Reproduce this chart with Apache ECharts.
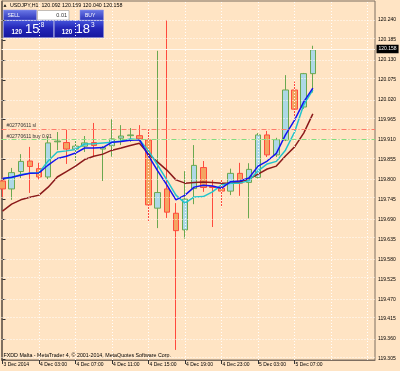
<!DOCTYPE html>
<html><head><meta charset="utf-8">
<script src="https://cdn.jsdelivr.net/npm/echarts@6/dist/echarts.min.js"></script>
<style>html,body{margin:0;padding:0;background:#FFE4C4;} #c{width:400px;height:371px;}</style>
</head><body><div id="c"></div>
<script>
// ---- data (USDJPY, H1) ----
const times = ['3 Dec 23:00','4 Dec 00:00','4 Dec 01:00','4 Dec 02:00','4 Dec 03:00','4 Dec 04:00','4 Dec 05:00','4 Dec 06:00',
  '4 Dec 07:00','4 Dec 08:00','4 Dec 09:00','4 Dec 10:00','4 Dec 11:00','4 Dec 12:00','4 Dec 13:00','4 Dec 14:00',
  '4 Dec 15:00','4 Dec 16:00','4 Dec 17:00','4 Dec 18:00','4 Dec 19:00','4 Dec 20:00','4 Dec 21:00','4 Dec 22:00',
  '4 Dec 23:00','5 Dec 00:00','5 Dec 01:00','5 Dec 02:00','5 Dec 03:00','5 Dec 04:00','5 Dec 05:00','5 Dec 06:00',
  '5 Dec 07:00','5 Dec 08:00','5 Dec 09:00'];
const opens  = [119.796,119.774,119.822,119.851,119.830,119.807,119.904,119.902,119.884,119.892,119.902,119.884,119.893,119.914,119.921,119.921,
  119.909,119.721,119.774,119.707,119.661,119.775,119.833,119.781,119.776,119.768,119.817,119.792,119.806,119.923,119.868,119.909,120.047,120.000,120.092];
const closes = [119.774,119.819,119.850,119.836,119.807,119.901,119.906,119.884,119.892,119.901,119.894,119.888,119.912,119.920,119.923,119.912,
  119.730,119.764,119.710,119.659,119.746,119.839,119.778,119.778,119.768,119.817,119.790,119.828,119.923,119.868,119.910,120.047,119.994,120.092,120.158];
const lows   = [119.752,119.744,119.804,119.763,119.799,119.801,119.881,119.843,119.848,119.876,119.862,119.796,119.863,119.895,119.904,119.904,
  119.683,119.666,119.694,119.330,119.637,119.732,119.766,119.669,119.724,119.757,119.755,119.693,119.803,119.862,119.862,119.906,119.972,119.995,120.040];
const highs  = [119.807,119.832,119.870,119.890,119.846,119.920,119.931,119.937,119.906,119.920,119.956,119.892,119.966,119.950,119.942,119.950,
  119.942,120.155,120.240,119.735,119.823,119.895,119.851,119.799,119.799,119.830,119.846,119.845,119.928,119.934,119.915,120.088,120.070,120.094,120.169];
const maBlue = [119.803,119.806,119.812,119.817,119.818,119.840,119.858,119.864,119.873,119.887,119.887,119.888,119.903,119.905,119.908,119.910,
  119.865,119.824,119.785,119.744,119.757,119.779,119.784,119.782,119.776,119.794,119.796,119.804,119.837,119.851,119.872,119.923,119.964,120.014,120.052];
const maCyan = [119.803,119.805,119.814,119.817,119.819,119.851,119.876,119.879,119.883,119.898,119.899,119.901,119.903,119.906,119.912,119.910,
  119.879,119.840,119.799,119.757,119.735,119.752,119.753,119.766,119.785,119.790,119.790,119.797,119.824,119.843,119.850,119.881,119.931,120.006,120.047];
const maRed  = [119.713,119.732,119.744,119.751,119.757,119.779,119.807,119.822,119.837,119.855,119.864,119.870,119.881,119.887,119.894,119.900,
  119.870,119.848,119.826,119.799,119.790,119.792,119.793,119.792,119.790,119.790,119.793,119.801,119.815,119.829,119.837,119.865,119.890,119.928,119.981];
const yTickLabels = ['119.305','119.360','119.415','119.470','119.525','119.580','119.635','119.690','119.745','119.800',
  '119.855','119.910','119.965','120.020','120.075','120.130','120.185','120.240'];
const xTickIdx = [0,4,8,12,16,20,24,28,32];
const xTickLabels = ['3 Dec 2014','4 Dec 03:00','4 Dec 07:00','4 Dec 11:00','4 Dec 15:00','4 Dec 19:00','4 Dec 23:00','5 Dec 03:00','5 Dec 07:00'];
const xGridIdx = [4,8,12,16,20,24,28,32,36,40];
const bidPrice = 120.158, slPrice = 119.937, buyPrice = 119.909;
const header = 'USDJPY,H1  120.092 120.169 120.040 120.158';
// ----------------------------

const yTicks = yTickLabels.map(Number);
const FONT = '"Liberation Sans", Arial, sans-serif';
const chart = echarts.init(document.getElementById('c'), null, {renderer:'canvas'});

const candleData = times.map((t,i)=>[i, opens[i], closes[i], lows[i], highs[i]]);
const lineOf = arr => arr.map((v,i)=>[i, v]);

const blueGrad = {type:'linear',x:0,y:0,x2:0,y2:1,colorStops:[{offset:0,color:'#4656dc'},{offset:0.45,color:'#2426b8'},{offset:1,color:'#16169e'}]};
const tabGrad = {type:'linear',x:0,y:0,x2:0,y2:1,colorStops:[{offset:0,color:'#6c7ae8'},{offset:1,color:'#2a32b8'}]};

chart.setOption({
  animation:false,
  backgroundColor:'#FFE4C4',
  grid:{left:1.5, right:25, top:1, bottom:11, show:true, borderColor:'#7d6e60', borderWidth:1, backgroundColor:'transparent'},
  xAxis:{
    type:'value', min:-0.11, max:40.81,
    axisLine:{show:true, lineStyle:{color:'#7d6e60'}},
    axisTick:{show:true, customValues:xTickIdx, length:4, inside:false, lineStyle:{color:'#333'}},
    axisLabel:{show:true, customValues:xTickIdx, formatter:v=>{const k=xTickIdx.indexOf(Math.round(v)); return k>=0?xTickLabels[k]:'';},
      align:'left', fontSize:5, fontFamily:FONT, color:'#000', margin:2, padding:[0,0,0,1]},
    splitLine:{show:false}
  },
  yAxis:{
    type:'value', position:'right', min:119.3022, max:120.2924, scale:true,
    axisLine:{show:true, lineStyle:{color:'#7d6e60'}},
    axisTick:{show:true, customValues:yTicks, length:3, inside:false, lineStyle:{color:'#333'}},
    axisLabel:{show:true, customValues:yTicks, formatter:v=>v.toFixed(3), fontSize:5, fontFamily:FONT, color:'#000', margin:3},
    splitLine:{show:false}
  },
  series:[
    {type:'line', name:'grid', data:[], silent:true, z:1,
      markLine:{silent:true, symbol:['none','none'], animation:false, label:{show:false},
        lineStyle:{color:'#ffffff', type:[1,2], width:1, opacity:0.95},
        data: yTicks.map(v=>({yAxis:v})).concat(xGridIdx.map(v=>({xAxis:v})))}},
    {type:'line', name:'orders', data:[], silent:true, z:1,
      markLine:{silent:true, symbol:['none','none'], animation:false,
        data:[
          {yAxis:slPrice, lineStyle:{color:'#ff7b6b', type:[5,2,1,2], width:1},
            label:{show:true, formatter:'#02770611 sl', position:'insideStartTop', distance:1, padding:[0,0,0,4], fontSize:5, fontFamily:FONT, color:'#333'}},
          {yAxis:buyPrice, lineStyle:{color:'#86dc7e', type:[5,2,1,2], width:1},
            label:{show:true, formatter:'#02770611 buy 0.01', position:'insideStartTop', distance:1, padding:[0,0,0,4], fontSize:5, fontFamily:FONT, color:'#333'}},
          {yAxis:bidPrice, lineStyle:{color:'#fff8ef', type:'solid', width:1},
            label:{show:true, formatter:bidPrice.toFixed(3), position:'end', distance:1.5, backgroundColor:'#000', color:'#fff', padding:[2,2,1.5,2], fontSize:5, fontFamily:FONT}}
        ]}},
    {type:'candlestick', name:'USDJPY', data:candleData, barWidth:6, z:2, clip:true,
      itemStyle:{color:'#ADD8E6', color0:'#F4A460', borderColor:'#6aa84f', borderColor0:'#ff4a3d', borderWidth:1}},
    {type:'line', name:'MA red', data:lineOf(maRed), showSymbol:false, z:3, lineStyle:{color:'#8b1a1a', width:1.5}},
    {type:'line', name:'MA cyan', data:lineOf(maCyan), showSymbol:false, z:3, lineStyle:{color:'#22c4cc', width:1.5}},
    {type:'line', name:'MA blue', data:lineOf(maBlue), showSymbol:false, z:4, lineStyle:{color:'#1414f0', width:1.5}}
  ],
  graphic:[
    {type:'polygon', shape:{points:[[3.5,6.8],[5,4.2],[6.5,6.8]]}, style:{fill:'#000'}},
    {type:'text', x:10, y:5.5, style:{text:header, fill:'#000', font:'5.3px '+FONT, verticalAlign:'middle'}},
    // sell tab
    {type:'rect', shape:{x:3.5,y:10,width:33,height:10}, style:{fill:tabGrad, stroke:'#8a94e8', lineWidth:0.5}},
    {type:'text', x:7.5, y:15.3, style:{text:'SELL', fill:'#fff', font:'5px '+FONT, verticalAlign:'middle'}},
    // lot field
    {type:'rect', shape:{x:37.5,y:10.5,width:31.5,height:9.5}, style:{fill:'#fff', stroke:'#9a9a9a', lineWidth:0.6}},
    {type:'text', x:67, y:15.3, style:{text:'0.01', fill:'#333', font:'5.5px '+FONT, align:'right', verticalAlign:'middle'}},
    // buy tab
    {type:'rect', shape:{x:80,y:10,width:23.5,height:10}, style:{fill:tabGrad, stroke:'#8a94e8', lineWidth:0.5}},
    {type:'text', x:85, y:15.3, style:{text:'BUY', fill:'#fff', font:'5px '+FONT, verticalAlign:'middle'}},
    // sell panel
    {type:'rect', shape:{x:3.5,y:20.5,width:50,height:17}, style:{fill:blueGrad, stroke:'#7c86e0', lineWidth:0.6}},
    {type:'text', x:11.5, y:32.2, style:{text:'120', fill:'#fff', font:'bold 6.3px '+FONT, verticalAlign:'middle'}},
    {type:'text', x:25, y:29.6, style:{text:'15', fill:'#fff', font:'13px '+FONT, verticalAlign:'middle'}},
    {type:'text', x:40.8, y:25, style:{text:'8', fill:'#fff', font:'6.5px '+FONT, verticalAlign:'middle'}},
    // buy panel
    {type:'rect', shape:{x:54.3,y:20.5,width:49.2,height:17}, style:{fill:blueGrad, stroke:'#7c86e0', lineWidth:0.6}},
    {type:'text', x:61.7, y:32.2, style:{text:'120', fill:'#fff', font:'bold 6.3px '+FONT, verticalAlign:'middle'}},
    {type:'text', x:75.5, y:29.6, style:{text:'18', fill:'#fff', font:'13px '+FONT, verticalAlign:'middle'}},
    {type:'text', x:91, y:25, style:{text:'3', fill:'#fff', font:'6.5px '+FONT, verticalAlign:'middle'}},
    // copyright
    {type:'text', x:3.5, y:355.8, style:{text:'FXDD Malta - MetaTrader 4, \u00a9 2001-2014, MetaQuotes Software Corp.', fill:'#000', font:'5.3px '+FONT, verticalAlign:'middle'}}
  ]
});
</script></body></html>
